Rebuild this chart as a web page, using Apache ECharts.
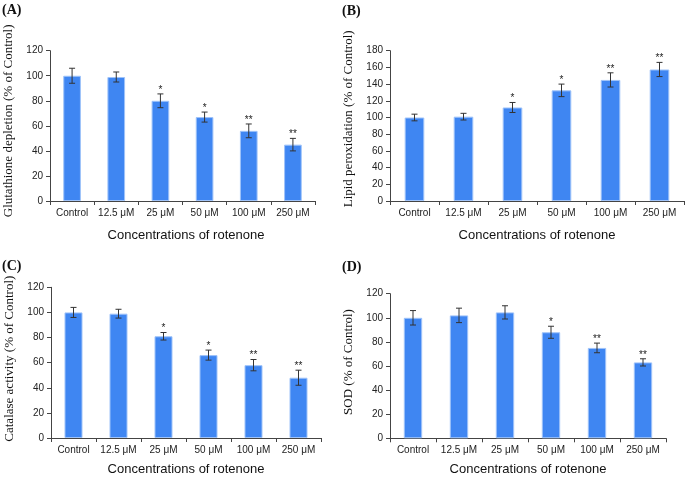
<!DOCTYPE html>
<html>
<head>
<meta charset="utf-8">
<script src="https://cdn.jsdelivr.net/npm/echarts@6/dist/echarts.min.js"></script>
<style>html,body{margin:0;padding:0;background:#fff}#c{width:685px;height:479px}</style>
</head>
<body>
<div id="c"></div>
<script>
const categories = ['Control', '12.5 μM', '25 μM', '50 μM', '100 μM', '250 μM'];
const gshMean = [100, 99, 80, 67, 56, 45];
const gshErr = [6, 4, 5.5, 4, 5.5, 5];
const gshSig = ['', '', '*', '*', '**', '**'];
const lpoMean = [100, 101, 112, 132.5, 145, 157.5];
const lpoErr = [4, 4, 6, 7.5, 8.5, 8.5];
const lpoSig = ['', '', '*', '*', '**', '**'];
const catMean = [100, 99, 81, 66, 58, 48];
const catErr = [4, 3.5, 3, 4, 4.5, 6];
const catSig = ['', '', '*', '*', '**', '**'];
const sodMean = [100, 102, 104.5, 88, 75, 63];
const sodErr = [6, 6, 5.5, 5, 4, 3];
const sodSig = ['', '', '', '*', '**', '**'];
const yMaxA = 120, yMaxB = 180, yMaxC = 120, yMaxD = 120;
const yInterval = 20;

const panels = [
  {label: '(A)', yName: 'Glutathione depletion (% of Control)', mean: gshMean, err: gshErr, sig: gshSig, max: yMaxA,
   grid: {left: 50, top: 50.7, width: 265, height: 150.3}, lab: [2, 3], yPad: 10, xGap: 28, xPad: 7},
  {label: '(B)', yName: 'Lipid peroxidation (% of Control)', mean: lpoMean, err: lpoErr, sig: lpoSig, max: yMaxB,
   grid: {left: 390, top: 50.7, width: 294, height: 150.3}, lab: [342, 4], yPad: 14, xGap: 28, xPad: 0},
  {label: '(C)', yName: 'Catalase activity (% of Control)', mean: catMean, err: catErr, sig: catSig, max: yMaxC,
   grid: {left: 51, top: 287.3, width: 270, height: 150.7}, lab: [2, 259], yPad: 8, xGap: 25, xPad: 0},
  {label: '(D)', yName: 'SOD (% of Control)', mean: sodMean, err: sodErr, sig: sodSig, max: yMaxD,
   grid: {left: 390, top: 293.7, width: 276, height: 144.6}, lab: [342, 260], yPad: 8, xGap: 24.5, xPad: 0}
];

const axisColor = '#444';
const option = {
  animation: false,
  backgroundColor: '#fff',
  title: [], grid: [], xAxis: [], yAxis: [], series: []
};

panels.forEach((p, i) => {
  option.title.push({
    text: p.label, left: p.lab[0], top: p.lab[1], padding: 0,
    textStyle: {fontFamily: 'Liberation Serif', fontWeight: 'bold', fontSize: 14, color: '#111'}
  });
  option.grid.push(Object.assign({containLabel: false}, p.grid));
  option.xAxis.push({
    type: 'category', gridIndex: i, data: categories,
    name: 'Concentrations of rotenone', nameLocation: 'middle', nameGap: p.xGap,
    nameTextStyle: {fontFamily: 'Liberation Sans', fontSize: 13, color: '#111', padding: [0, 0, 0, p.xPad]},
    axisLine: {lineStyle: {color: axisColor, width: 1}},
    axisTick: {show: true, length: 4, lineStyle: {color: axisColor}},
    axisLabel: {fontFamily: 'Liberation Sans', fontSize: 10, color: '#222', margin: 7, interval: 0}
  });
  option.yAxis.push({
    type: 'value', gridIndex: i, min: 0, max: p.max, interval: yInterval,
    name: p.yName, nameLocation: 'middle', nameGap: 35,
    nameTextStyle: {fontFamily: 'Liberation Serif', fontSize: 13, color: '#111', padding: [0, 0, 0, p.yPad]},
    axisLine: {show: true, lineStyle: {color: axisColor, width: 1}},
    axisTick: {show: true, length: 4, lineStyle: {color: axisColor}},
    axisLabel: {fontFamily: 'Liberation Sans', fontSize: 10, color: '#222', margin: 7},
    splitLine: {show: false}
  });
  option.series.push({
    type: 'bar', xAxisIndex: i, yAxisIndex: i, data: p.mean, barWidth: '40%',
    itemStyle: {color: '#3f86f2', borderColor: '#9fc3f9', borderWidth: 1}
  });
  option.series.push({
    type: 'custom', xAxisIndex: i, yAxisIndex: i, z: 10,
    data: p.mean.map((m, k) => [k, m, p.err[k]]),
    renderItem: function (params, api) {
      const k = api.value(0), m = api.value(1), e = api.value(2);
      const top = api.coord([k, m + e]);
      const bot = api.coord([k, m - e]);
      const cap = 3;
      const style = {stroke: '#333', lineWidth: 1};
      const children = [
        {type: 'line', shape: {x1: top[0], y1: top[1], x2: bot[0], y2: bot[1]}, style: style},
        {type: 'line', shape: {x1: top[0] - cap, y1: top[1], x2: top[0] + cap, y2: top[1]}, style: style},
        {type: 'line', shape: {x1: bot[0] - cap, y1: bot[1], x2: bot[0] + cap, y2: bot[1]}, style: style}
      ];
      const s = p.sig[params.dataIndex];
      if (s) {
        children.push({type: 'text', x: top[0], y: top[1] + 1,
          style: {text: s, fill: '#222', font: '10px Liberation Sans', align: 'center', verticalAlign: 'bottom'}});
      }
      return {type: 'group', children: children};
    }
  });
});

const chart = echarts.init(document.getElementById('c'), null, {renderer: 'canvas'});
chart.setOption(option);
</script>
</body>
</html>
